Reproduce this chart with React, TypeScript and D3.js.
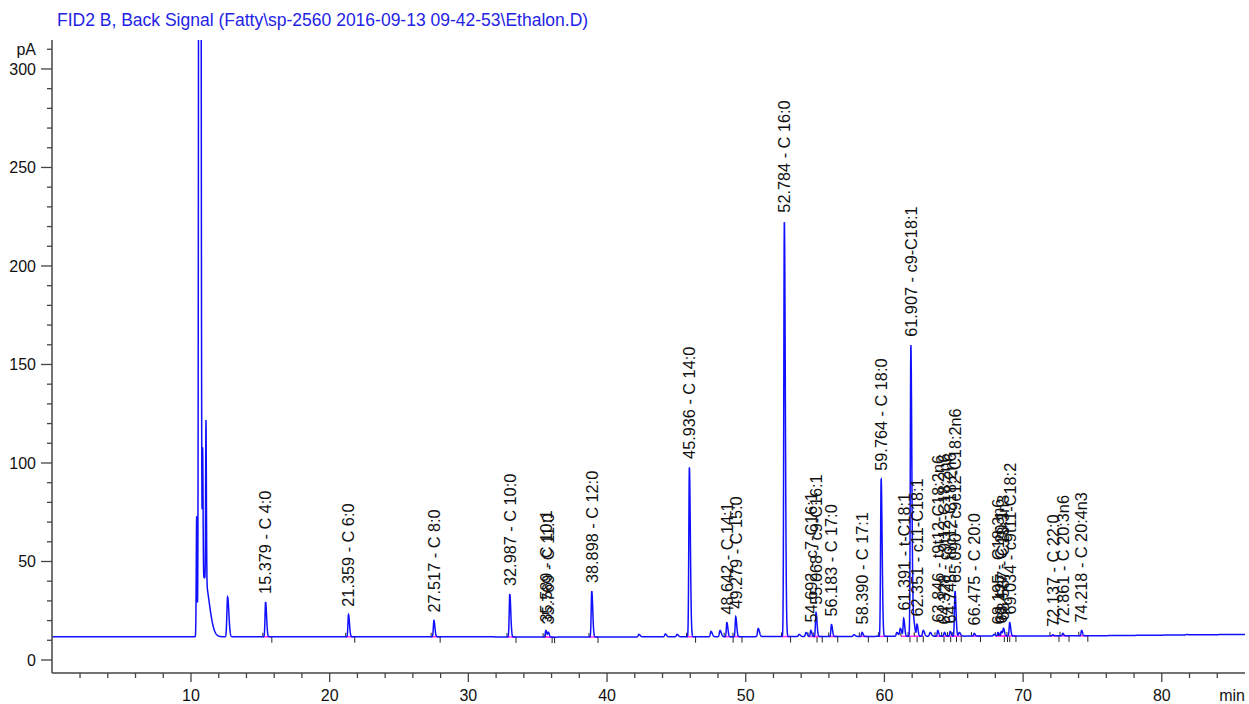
import React, { useEffect, useRef } from "react";
import * as d3 from "d3";

const chartTitle = "FID2 B, Back Signal (Fatty\\sp-2560 2016-09-13 09-42-53\\Ethalon.D)";

// labelled peaks: retention time (min), apex (pA), compound
const peakTimes = [15.379, 21.359, 27.517, 32.987, 35.589, 35.769, 38.898, 45.936, 48.642, 49.279, 52.784, 54.692, 55.068, 56.183, 58.39, 59.764, 61.391, 61.907, 62.351, 63.846, 64.328, 64.745, 65.09, 66.475, 68.195, 68.427, 68.587, 69.034, 72.137, 72.861, 74.218];
const peakHeights = [29.5, 23, 20, 33.5, 15, 14, 35, 98, 19, 22, 223, 15, 24, 18, 14, 92, 21, 160, 18, 15, 14, 14.5, 35, 13.5, 14, 14.5, 16, 19, 12.8, 13.5, 15];
const peakNames = ["C 4:0", "C 6:0", "C 8:0", "C 10:0", "C 10:1", "C 11:0", "C 12:0", "C 14:0", "C 14:1", "C 15:0", "C 16:0", "c7-C16:1", "c9-C16:1", "C 17:0", "C 17:1", "C 18:0", "t-C18:1", "c9-C18:1", "c11-C18:1", "t9t12-C18:2n6", "c9t12-C18:2n6", "t9c12-C18:2n6", "c9c12-C18:2n6", "C 20:0", "C18:3n6", "C 20:1", "C18:3n3", "c9t11-C18:2", "C 22:0", "C 20:3n6", "C 20:4n3"];

// small peaks without a label
const minorTimes = [12.64, 42.3, 44.2, 45.05, 47.5, 48.15, 50.9, 53.85, 54.35, 57.8, 60.9, 61.15, 62.1, 62.8, 63.3, 65.4, 67.9, 81.8];
const minorHeights = [32, 13, 13.2, 13, 14.5, 15, 16, 13, 14, 12.8, 14, 16, 20, 15, 14, 14, 13, 13];

// solvent cluster (pA above baseline) with its left / right widths (min)
const solventTimes = [10.41, 10.63, 10.84, 11.08, 10.95];
const solventHeights = [61, 1500, 70, 82, 30];
const solventLeft = [0.03, 0.05, 0.025, 0.025, 0.15];
const solventRight = [0.03, 0.06, 0.03, 0.03, 0.35];

// baseline drift
const baseTimes = [0, 30, 36, 40, 60, 75, 86];
const baseLevels = [11.8, 11.8, 11.6, 11.7, 12.0, 12.3, 13.0];

const yMajor = [0, 50, 100, 150, 200, 250, 300];
const xMajor = [10, 20, 30, 40, 50, 60, 70, 80];

function App() {
    const chart = useRef(null);

    useEffect(() => {
        const width = 1249;
        const height = 704;
        const svg = d3.select(chart.current)
            .attr("width", width)
            .attr("height", height);

        const font = "Arial, 'Liberation Sans', sans-serif";
        const x = d3.scaleLinear().domain([0, 86]).range([52.3, 1245]);
        const y = d3.scaleLinear().domain([-6.6, 314.7]).range([673, 40]);
        const base = d3.scaleLinear().domain(baseTimes).range(baseLevels);

        // build the trace from the peak table
        const shape = (t, c, h, sl, sr) => {
            const s = t < c ? sl : sr;
            return h * Math.exp(-((t - c) * (t - c)) / (2 * s * s));
        };
        const trace = d3.range(0, 86.001, 0.01).map(t => {
            let v = base(t);
            solventTimes.forEach((c, i) => {
                if (Math.abs(t - c) < 3) v += shape(t, c, solventHeights[i], solventLeft[i], solventRight[i]);
            });
            peakTimes.forEach((c, i) => {
                if (Math.abs(t - c) < 1) v += shape(t, c, peakHeights[i] - base(c), 0.04, 0.07);
            });
            minorTimes.forEach((c, i) => {
                if (Math.abs(t - c) < 1) v += shape(t, c, minorHeights[i] - base(c), 0.05, 0.09);
            });
            return [t, v];
        });

        svg.append("defs").append("clipPath").attr("id", "plot-clip")
            .append("rect").attr("x", 52).attr("y", 40).attr("width", 1194).attr("height", 633);

        // title
        svg.append("text")
            .attr("x", 57).attr("y", 26)
            .attr("font-family", font).attr("font-size", 17.5)
            .attr("fill", "#2323e6")
            .text(chartTitle);

        // integration baselines
        const marks = svg.append("g");
        peakTimes.forEach(c => {
            const by = y(base(c));
            marks.append("line")
                .attr("x1", x(c - 0.2)).attr("x2", x(c + 0.45))
                .attr("y1", by).attr("y2", by)
                .attr("stroke", "#ff33ff").attr("stroke-width", 1.5);
            marks.append("line")
                .attr("x1", x(c + 0.45)).attr("x2", x(c + 0.45))
                .attr("y1", by).attr("y2", by + 6)
                .attr("stroke", "#222").attr("stroke-width", 1);
            marks.append("line")
                .attr("x1", x(c - 0.2)).attr("x2", x(c - 0.2))
                .attr("y1", by - 4).attr("y2", by)
                .attr("stroke", "#222").attr("stroke-width", 1);
        });

        // signal
        const line = d3.line().x(d => x(d[0])).y(d => y(d[1]));
        svg.append("path")
            .datum(trace)
            .attr("d", line)
            .attr("clip-path", "url(#plot-clip)")
            .attr("fill", "none")
            .attr("stroke", "#1010ff")
            .attr("stroke-width", 1.5);

        // peak labels
        svg.selectAll(".peak-label")
            .data(peakTimes)
            .enter()
            .append("text")
            .attr("class", "peak-label")
            .attr("transform", (d, i) => "translate(" + x(d) + "," + (y(peakHeights[i]) - 8) + ") rotate(-90)")
            .attr("dy", "0.36em")
            .attr("font-family", font)
            .attr("font-size", 16.3)
            .attr("fill", "#111")
            .text((d, i) => d.toFixed(3) + " - " + peakNames[i]);

        // axes
        const axisColour = "#444";
        const ax = svg.append("g");
        ax.append("line").attr("x1", 52).attr("x2", 52).attr("y1", 40).attr("y2", 673)
            .attr("stroke", axisColour).attr("stroke-width", 1.5);
        ax.append("line").attr("x1", 52).attr("x2", 1245).attr("y1", 673).attr("y2", 673)
            .attr("stroke", axisColour).attr("stroke-width", 1.5);

        d3.range(0, 311, 10).forEach(v => {
            const major = v % 50 === 0;
            ax.append("line")
                .attr("x1", major ? 41 : 47).attr("x2", 52)
                .attr("y1", y(v)).attr("y2", y(v))
                .attr("stroke", axisColour).attr("stroke-width", 1.3);
        });
        ax.selectAll(".y-label")
            .data(yMajor)
            .enter()
            .append("text")
            .attr("class", "y-label")
            .attr("x", 36).attr("y", d => y(d))
            .attr("dy", "0.36em")
            .attr("text-anchor", "end")
            .attr("font-family", font).attr("font-size", 16)
            .attr("fill", "#111")
            .text(d => d);
        ax.append("text")
            .attr("x", 36).attr("y", y(310))
            .attr("dy", "0.36em")
            .attr("text-anchor", "end")
            .attr("font-family", font).attr("font-size", 16)
            .attr("fill", "#111")
            .text("pA");

        d3.range(2, 86, 2).forEach(v => {
            const major = v % 10 === 0;
            ax.append("line")
                .attr("x1", x(v)).attr("x2", x(v))
                .attr("y1", 673).attr("y2", major ? 682 : 678)
                .attr("stroke", axisColour).attr("stroke-width", 1.3);
        });
        ax.selectAll(".x-label")
            .data(xMajor)
            .enter()
            .append("text")
            .attr("class", "x-label")
            .attr("x", d => x(d)).attr("y", 701)
            .attr("text-anchor", "middle")
            .attr("font-family", font).attr("font-size", 16)
            .attr("fill", "#111")
            .text(d => d);
        ax.append("text")
            .attr("x", 1245).attr("y", 701)
            .attr("text-anchor", "end")
            .attr("font-family", font).attr("font-size", 16)
            .attr("fill", "#111")
            .text("min");

        return () => {
            svg.selectAll("*").remove();
        };
    }, []);

    return (
        <svg ref={chart} style={{ position: "absolute", left: 0, top: 0 }}></svg>
    );
}

export default App;
